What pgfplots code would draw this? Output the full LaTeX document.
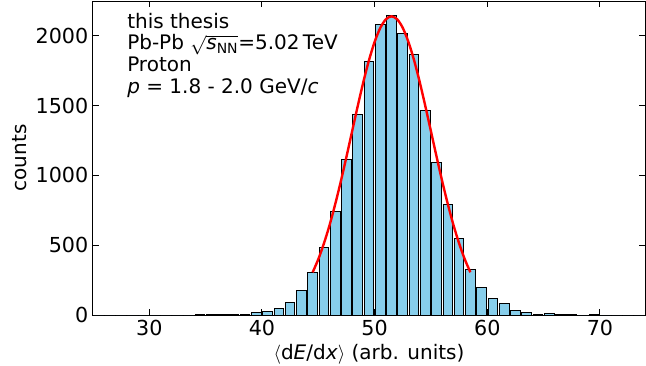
\documentclass[border=0pt]{standalone}
\usepackage{fontspec}
\setmainfont{DejaVu Sans}
\usepackage{pgfplots}
\usepackage{pgfplotstable}
\pgfplotsset{compat=1.18}

\definecolor{barblue}{HTML}{87CEEB}
\definecolor{fitred}{HTML}{FF0000}

% histogram of <dE/dx>, bin centres and counts
\pgfplotstableread{
x y
25.5 0
26.5 0
27.5 0
28.5 0
29.5 0
30.5 0
31.5 0
32.5 0
33.5 0
34.5 1
35.5 1
36.5 2
37.5 3
38.5 2
39.5 20
40.5 25
41.5 48
42.5 91
43.5 178
44.5 303
45.5 484
46.5 742
47.5 1114
48.5 1440
49.5 1817
50.5 2079
51.5 2144
52.5 2015
53.5 1865
54.5 1466
55.5 1090
56.5 790
57.5 548
58.5 329
59.5 200
60.5 120
61.5 79
62.5 35
63.5 19
64.5 6
65.5 12
66.5 2
67.5 1
68.5 0
69.5 1
70.5 0
71.5 0
72.5 0
73.5 0
}\histdata

% gaussian fit
\pgfplotstableread{
x y
44.5 306
45 400
45.5 513
46 644
46.5 794
47 958
47.5 1134
48 1316
48.5 1497
49 1670
49.5 1826
50 1957
50.5 2057
51 2119
51.5 2140
52 2119
52.5 2057
53 1957
53.5 1826
54 1670
54.5 1497
55 1316
55.5 1134
56 958
56.5 794
57 644
57.5 513
58 400
58.5 306
}\fitdata

\begin{document}
\begin{tikzpicture}
\begin{axis}[
  scale only axis, width=414pt, height=235.5pt,
  xmin=25, xmax=74, ymin=0, ymax=2250,
  xtick={30,40,...,70}, ytick={0,500,...,2000},
  tick align=inside, major tick length=4.5pt,
  tick style={black, line width=0.75pt},
  axis line style={line width=0.75pt},
  /pgf/number format/assume math mode=true,
  /pgf/number format/1000 sep={},
  ticklabel style={font=\fontsize{15.5}{17}\selectfont},
  label style={font=\fontsize{15}{18}\selectfont},
  xlabel={$\langle$d\textit{E}/d\textit{x}$\rangle$ (arb. units)},
  ylabel={counts},
]
\addplot[ybar, bar width=0.86, fill=barblue, draw=black, line width=0.75pt] table {\histdata};
\addplot[fitred, line width=1.8pt, smooth] table {\fitdata};
\node[anchor=north west, align=left, inner sep=0pt,
  font=\fontsize{15}{16.2}\selectfont]
  at (rel axis cs:0.0616,0.962)
  {this thesis\\
   Pb-Pb $\sqrt{\mbox{\itshape s}_{\mbox{\fontsize{10.5}{12}\selectfont NN}}}$=5.02\,TeV\\
   Proton\\
   \textit{p} = 1.8 - 2.0 GeV/\textit{c}};
\end{axis}
\pgfresetboundingbox
\path[use as bounding box] ([shift={(-69.75pt,-37.5pt)}]current axis.south west)
  rectangle ([shift={(0.75pt,0.75pt)}]current axis.north east);
\end{tikzpicture}
\end{document}
